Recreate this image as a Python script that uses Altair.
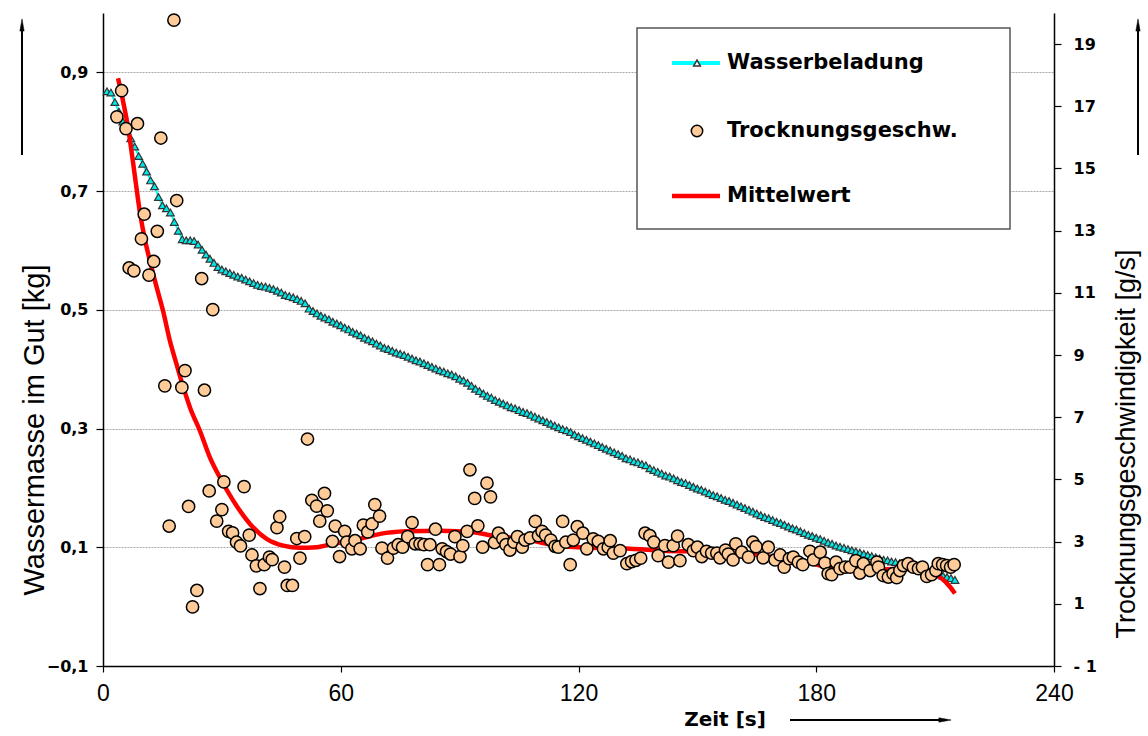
import altair as alt
import pandas as pd

# ---------------- data ----------------
# Wasserbeladung (left axis, kg), one reading per second starting at t = 1 s
wb_values = [
    0.868, 0.866, 0.850, 0.834, 0.817, 0.802, 0.789, 0.775, 0.759, 0.746,
    0.733, 0.718, 0.708, 0.690, 0.676, 0.671, 0.664, 0.648, 0.633, 0.619,
    0.617, 0.617, 0.616, 0.610, 0.601, 0.593, 0.586, 0.579, 0.572, 0.568,
    0.565, 0.562, 0.559, 0.556, 0.554, 0.551, 0.548, 0.545, 0.542, 0.540,
    0.539, 0.537, 0.535, 0.532, 0.529, 0.525, 0.523, 0.521, 0.518, 0.515,
    0.511, 0.502, 0.498, 0.494, 0.490, 0.487, 0.484, 0.480, 0.477, 0.474,
    0.470, 0.467, 0.463, 0.460, 0.457, 0.453, 0.450, 0.447, 0.443, 0.440,
    0.436, 0.434, 0.431, 0.428, 0.426, 0.424, 0.421, 0.418, 0.415, 0.413,
    0.410, 0.407, 0.404, 0.401, 0.398, 0.396, 0.393, 0.391, 0.388, 0.384,
    0.381, 0.377, 0.372, 0.367, 0.363, 0.359, 0.355, 0.352, 0.348, 0.345,
    0.342, 0.339, 0.336, 0.334, 0.331, 0.328, 0.326, 0.323, 0.320, 0.317,
    0.314, 0.311, 0.308, 0.305, 0.302, 0.299, 0.297, 0.294, 0.290, 0.287,
    0.284, 0.281, 0.278, 0.275, 0.272, 0.269, 0.266, 0.263, 0.260, 0.257,
    0.254, 0.250, 0.248, 0.245, 0.243, 0.240, 0.238, 0.233, 0.230, 0.227,
    0.224, 0.221, 0.219, 0.216, 0.213, 0.210, 0.208, 0.205, 0.202, 0.199,
    0.197, 0.194, 0.191, 0.188, 0.186, 0.183, 0.180, 0.178, 0.175, 0.172,
    0.169, 0.166, 0.163, 0.160, 0.157, 0.154, 0.151, 0.149, 0.146, 0.143,
    0.141, 0.138, 0.135, 0.132, 0.130, 0.127, 0.124, 0.121, 0.119, 0.116,
    0.114, 0.111, 0.108, 0.106, 0.103, 0.101, 0.099, 0.097, 0.095, 0.093,
    0.091, 0.089, 0.087, 0.085, 0.083, 0.081, 0.079, 0.078, 0.076, 0.075,
    0.073, 0.072, 0.070, 0.068, 0.066, 0.064, 0.062, 0.060, 0.058, 0.056,
    0.054, 0.052, 0.050, 0.048, 0.045,
]
wb_time = list(range(1, len(wb_values) + 1))

# Trocknungsgeschwindigkeit (right axis, g/s)
tr_time = [
    3.5, 4.7, 5.8, 6.6, 7.8, 8.7, 9.7, 10.4, 11.6, 12.8, 13.7, 14.6, 15.6, 16.7,
    17.9, 18.6, 19.9, 20.7, 21.6, 22.6, 23.7, 24.9, 25.6, 26.8, 27.7, 28.7, 30.0,
    30.5, 31.7, 32.7, 33.7, 34.7, 35.6, 36.9, 37.6, 38.7, 39.6, 40.7, 42.0, 42.7,
    43.9, 44.6, 45.8, 46.5, 47.8, 48.9, 49.7, 50.9, 51.6, 52.7, 53.9, 54.7, 55.9,
    56.6, 57.9, 58.6, 59.7, 61.0, 61.5, 62.8, 63.6, 64.9, 65.7, 66.8, 67.9, 68.6,
    69.8, 70.4, 71.8, 73.3, 74.5, 75.6, 76.9, 78.0, 78.8, 80.0, 81.0, 81.9, 82.5,
    83.9, 84.9, 85.6, 86.7, 87.7, 88.8, 90.1, 90.8, 91.9, 92.6, 93.8, 94.6, 95.8,
    96.9, 97.8, 98.8, 99.8, 100.9, 101.7, 102.7, 103.7, 104.6, 105.8, 106.5,
    107.8, 109.1, 109.9, 110.8, 111.7, 113.0, 114.1, 114.9, 116.0, 116.8, 117.9,
    118.7, 119.7, 121.1, 122.1, 123.7, 125.0, 126.3, 127.5, 128.0, 128.8, 130.5,
    132.2, 133.4, 134.5, 135.7, 136.8, 138.0, 139.0, 140.1, 141.8, 142.7, 143.9,
    145.0, 145.6, 147.7, 149.0, 150.0, 151.1, 152.3, 153.6, 154.9, 155.7, 157.1,
    157.8, 159.0, 159.7, 161.2, 162.9, 164.0, 164.8, 166.6, 167.9, 169.6, 170.9,
    171.9, 173.2, 174.2, 175.5, 176.6, 178.4, 179.3, 181.0, 182.2, 183.0, 183.9,
    185.0, 186.0, 187.3, 188.5, 190.0, 191.0, 191.9, 193.6, 195.3, 195.7, 196.9,
    198.2, 199.4, 200.3, 201.1, 202.0, 203.2, 204.5, 205.8, 206.8, 207.9, 209.1,
    210.2, 210.8, 211.9, 212.9, 213.9, 214.8,
]
tr_values = [
    16.66, 17.5, 16.28, 11.8, 11.71, 16.44, 12.74, 13.53, 11.57, 12.01, 12.98,
    15.98, 8.01, 3.5, 19.77, 13.97, 7.96, 8.5, 4.13, 0.9, 1.43, 11.46, 7.87,
    4.63, 10.46, 3.66, 4.03, 4.92, 3.33, 3.28, 2.98, 2.86, 4.77, 3.21, 2.57,
    2.22, 1.49, 2.26, 2.5, 2.42, 3.45, 3.8, 2.18, 1.59, 1.59, 3.1, 2.47, 3.16,
    6.3, 4.33, 4.14, 3.66, 4.55, 3.99, 3.01, 3.5, 2.52, 3.33, 2.98, 2.77, 3.03,
    2.77, 3.53, 3.31, 3.57, 4.19, 3.82, 2.79, 2.47, 2.79, 2.9, 2.82, 3.16, 3.61,
    2.93, 2.93, 2.9, 2.26, 2.9, 3.4, 2.26, 2.77, 2.68, 2.6, 3.16, 2.52, 2.87,
    3.33, 5.31, 4.39, 3.51, 2.82, 4.88, 4.44, 2.97, 3.27, 3.09, 2.9, 2.73, 2.98,
    3.16, 2.82, 3.05, 3.12, 3.65, 3.19, 3.33, 3.21, 3.05, 2.85, 2.82, 3.65,
    2.98, 2.26, 3.05, 3.48, 3.27, 2.77, 3.09, 3.01, 2.77, 2.82, 3.03, 2.63,
    2.71, 2.29, 2.36, 2.40, 2.47, 3.27, 3.19, 2.98, 2.55, 2.87, 2.34, 2.87,
    3.18, 2.39, 2.9, 2.71, 2.82, 2.52, 2.69, 2.63, 2.63, 2.48, 2.73, 2.6, 2.41,
    2.93, 2.66, 2.5, 2.98, 2.84, 2.48, 2.82, 2.41, 2.57, 2.18, 2.45, 2.5, 2.34,
    2.26, 2.69, 2.41, 2.66, 2.31, 1.97, 1.94, 2.34, 2.13, 2.18, 2.18, 2.39,
    1.99, 2.29, 2.07, 2.34, 2.18, 1.91, 1.86, 1.97, 1.84, 2.07, 2.23, 2.29,
    2.18, 2.13, 2.18, 1.88, 1.94, 2.07, 2.29, 2.26, 2.23, 2.18, 2.26,
]

# Mittelwert (right axis, g/s)
mw_time = [3.8, 5.0, 6.4, 8.0, 9.3, 10.6, 11.9, 13.5, 15.2, 16.8, 18.6, 20.3,
           22.0, 24.5, 27.0, 29.5, 32.9, 37.1, 41.3, 45.5, 49.7, 53.9, 58.1,
           64.9, 70.0, 76.6, 85.0, 93.5, 98.5, 106.0, 114.5, 120.4, 133.0,
           141.4, 154.0, 166.6, 179.3, 184.3, 192.7, 201.1, 207.9, 211.2,
           213.8, 215.0]
mw_values = [17.9, 17.2, 16.26, 14.8, 13.6, 12.7, 12.0, 11.2, 10.4, 9.5, 8.69,
             7.95, 7.3, 6.55, 5.7, 5.06, 4.31, 3.57, 3.09, 2.87, 2.8, 2.82,
             2.93, 3.09, 3.25, 3.33, 3.35, 3.3, 3.19, 3.09, 2.87, 2.82, 2.77,
             2.71, 2.66, 2.55, 2.29, 2.13, 2.07, 2.13, 2.07, 1.86, 1.54, 1.33]

x_ticks = [0, 60, 120, 180, 240]
left_ticks = [-0.1, 0.1, 0.3, 0.5, 0.7, 0.9]
right_ticks = [-1, 1, 3, 5, 7, 9, 11, 13, 15, 17, 19]

legend_labels = ["Wasserbeladung", "Trocknungsgeschw.", "Mittelwert"]
left_title = "Wassermasse im Gut  [kg]"
right_title = "Trocknungsgeschwindigkeit  [g/s]"
x_title = "Zeit  [s]"

# ---------------- build ----------------
W, H = 951, 653
NARROW = "Liberation Sans Narrow, Liberation Sans, sans-serif"
BOLDF = "DejaVu Sans"

wb = pd.DataFrame({"t": wb_time, "v": wb_values})
tr = pd.DataFrame({"t": tr_time, "v": tr_values})
mw = pd.DataFrame({"t": mw_time, "v": mw_values})

xs = alt.Scale(domain=[0, 240], nice=False, zero=False)
x_axis = alt.Axis(values=x_ticks, title=None, grid=False, domainColor="black",
                  domainWidth=1.5, tickColor="black", tickSize=6, tickWidth=1.2,
                  labelFont=NARROW, labelFontSize=23, labelColor="black",
                  labelPadding=10, labelFlush=False)

left_axis = alt.Axis(orient="left", values=left_ticks, title=None,
                     labelExpr="replace(format(datum.value, '.1f'), '.', ',')",
                     grid=True, gridColor="#a8a8a8", gridDash=[2, 1], gridWidth=1,
                     domainColor="black", domainWidth=1.5, tickColor="black",
                     tickSize=7, tickWidth=1.2, labelFont=BOLDF,
                     labelFontWeight="bold", labelFontSize=16, labelColor="black",
                     labelPadding=8)
right_axis = alt.Axis(orient="right", values=right_ticks, title=None, grid=False,
                      labelExpr="datum.value < 0 ? '- ' + abs(datum.value) : datum.label",
                      domainColor="black", domainWidth=1.5, tickColor="black",
                      tickSize=7, tickWidth=1.2, labelFont=BOLDF,
                      labelFontWeight="bold", labelFontSize=16, labelColor="black",
                      labelPadding=12)

ly = alt.Scale(domain=[-0.1, 1.0], nice=False, zero=False)
ry = alt.Scale(domain=[-1, 20], nice=False, zero=False)

wb_line = alt.Chart(wb).mark_line(color="#00FFFF", strokeWidth=2).encode(
    x=alt.X("t:Q", scale=xs, axis=x_axis),
    y=alt.Y("v:Q", scale=ly, axis=left_axis))
wb_pts = alt.Chart(wb).mark_point(shape="triangle-up", filled=True, fill="#00E8E8",
                                  stroke="#333333", strokeWidth=1.2, size=60,
                                  opacity=1).encode(
    x=alt.X("t:Q", scale=xs, axis=x_axis),
    y=alt.Y("v:Q", scale=ly, axis=left_axis))
left = alt.layer(wb_line, wb_pts)

mw_line = alt.Chart(mw).mark_line(color="#FF0000", strokeWidth=4.5,
                                  interpolate="monotone").encode(
    x=alt.X("t:Q", scale=xs, axis=x_axis),
    y=alt.Y("v:Q", scale=ry, axis=right_axis))
tr_pts = alt.Chart(tr).mark_point(shape="circle", filled=True, fill="#FFCC99",
                                  stroke="black", strokeWidth=1.5, size=150,
                                  opacity=1).encode(
    x=alt.X("t:Q", scale=xs, axis=x_axis),
    y=alt.Y("v:Q", scale=ry, axis=right_axis))
right = alt.layer(mw_line, tr_pts)

base = alt.layer(left, right).resolve_scale(y="independent")

# ---- decorations (pixel positions inside the view) ----
one = pd.DataFrame({"a": [0]})

def text(s, x, y, size, font, weight="normal", angle=0, align="center"):
    return alt.Chart(one).mark_text(text=s, fontSize=size, font=font,
                                    fontWeight=weight, angle=angle, align=align,
                                    baseline="middle", color="black").encode(
        x=alt.value(x), y=alt.value(y))

def hrule(x1, x2, y, color, w):
    return alt.Chart(one).mark_rule(color=color, strokeWidth=w).encode(
        x=alt.value(x1), x2=alt.value(x2), y=alt.value(y))

def vrule(x, y1, y2, color, w):
    return alt.Chart(one).mark_rule(color=color, strokeWidth=w).encode(
        x=alt.value(x), y=alt.value(y1), y2=alt.value(y2))

def head(x, y, path):
    return alt.Chart(one).mark_point(shape=path, filled=True, fill="black",
                                     stroke="black", strokeWidth=0.5, size=150,
                                     opacity=1).encode(x=alt.value(x), y=alt.value(y))

UP = "M0,-1L0.35,1L-0.35,1Z"
RIGHT = "M1,0L-1,-0.35L-1,0.35Z"

legend_box = alt.Chart(one).mark_rect(fill="white", stroke="#555555",
                                      strokeWidth=1.5).encode(
    x=alt.value(534), x2=alt.value(907), y=alt.value(15), y2=alt.value(216))

leg = [
    legend_box,
    hrule(569, 617, 50, "#00FFFF", 4),
    alt.Chart(one).mark_point(shape="triangle-up", filled=True, fill="white",
                              stroke="#333333", strokeWidth=1.5, size=45,
                              opacity=1).encode(x=alt.value(594), y=alt.value(50)),
    text(legend_labels[0], 624, 50, 21, BOLDF, "bold", align="left"),
    alt.Chart(one).mark_point(shape="circle", filled=True, fill="#FFCC99",
                              stroke="black", strokeWidth=1.5, size=130,
                              opacity=1).encode(x=alt.value(594), y=alt.value(118)),
    text(legend_labels[1], 624, 118, 21, BOLDF, "bold", align="left"),
    hrule(569, 617, 183, "#FF0000", 4.5),
    text(legend_labels[2], 624, 183, 21, BOLDF, "bold", align="left"),
]

titles = [
    text(left_title, -68, 417, 29, "Liberation Sans", angle=270),
    text(right_title, 1024, 431, 27, "Liberation Sans", angle=270),
    text(x_title, 622, 707, 20, BOLDF, "bold"),
    vrule(-81, 142, 14, "black", 2),
    head(-81, 12, UP),
    vrule(1035, 142, 14, "black", 2),
    head(1035, 12, UP),
    hrule(687, 838, 707, "black", 2),
    head(842, 707, RIGHT),
]

chart = alt.layer(base, *leg, *titles).properties(
    width=W, height=H,
    padding={"left": 103, "top": 13, "right": 94, "bottom": 70},
    autosize=alt.AutoSizeParams(type="none"),
    background="white",
).configure_view(stroke=None)

chart.save("out.html", embed_options={"renderer": "svg", "actions": False})
